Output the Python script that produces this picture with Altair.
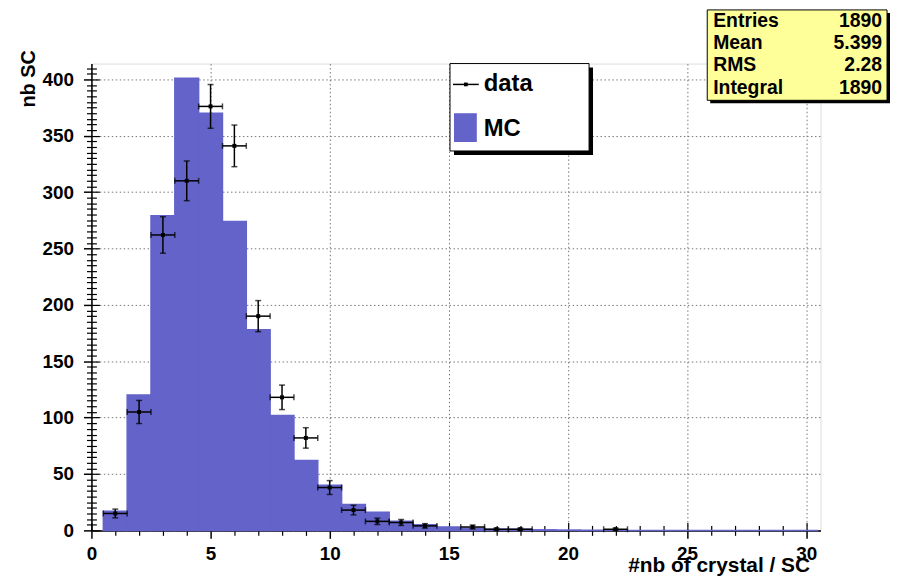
import math
import altair as alt
import pandas as pd

# ---------------- data ----------------
mc_bins = list(range(1, 31))
mc_counts = [17, 120, 279, 401, 370, 274, 178, 102, 62, 40, 23, 16, 8, 5, 3,
             2, 1, 1, 0.5, 0.3, 0.2, 0.1, 0, 0, 0, 0, 0, 0, 0, 0]

data_x = [1, 2, 3, 4, 5, 6, 7, 8, 9, 10, 11, 12, 13, 14, 16, 17, 18, 22]
data_counts = [15, 105, 262, 310, 376, 341, 190, 118, 82, 38, 18, 8, 7, 4, 3, 1, 1, 1]

x_major = [0, 5, 10, 15, 20, 25, 30]
x_minor = [v for v in range(0, 31) if v % 5 != 0]
y_major = [0, 50, 100, 150, 200, 250, 300, 350, 400]
y_minor = [v for v in range(0, 415, 5) if v % 50 != 0]

stats_labels = ["Entries", "Mean", "RMS", "Integral"]
stats_values = ["1890", "5.399", "2.28", "1890"]
legend_labels = ["data", "MC"]
x_title = "#nb of crystal / SC"
y_title = "nb SC"

# ---------------- styling ----------------
BLUE = "#6363c9"
FONT = "Liberation Sans"
W, H = 734, 470
xs = alt.Scale(domain=[0, 30.6], nice=False, zero=False)
ys = alt.Scale(domain=[0, 414], nice=False, zero=False)

mc = pd.DataFrame({"c": mc_bins, "n": mc_counts})
mc["lo"] = mc["c"] - 0.5
mc["hi"] = mc["c"] + 0.5
mc["z"] = 0

dd = pd.DataFrame({"x": data_x, "n": data_counts})
dd["err"] = [math.sqrt(v) for v in dd["n"]]
dd["lo"] = dd["x"] - 0.5
dd["hi"] = dd["x"] + 0.5
dd["ylo"] = dd["n"] - dd["err"]
dd["yhi"] = dd["n"] + dd["err"]

grid_kw = dict(gridColor="#777777", gridDash=[1.5, 2.5], gridWidth=1)

main_x_axis = alt.Axis(orient="bottom", values=x_major, format="d", grid=True, tickSize=8,
                       tickWidth=1.5, tickColor="black", labelPadding=6, labelFlush=False,
                       domainColor="black", domainWidth=1.5,
                       title=x_title, titleAlign="right", titleAnchor="end",
                       titleX=723, titleY=41, titleBaseline="alphabetic",
                       titleFontSize=21, titleFont=FONT, titleFontWeight="bold",
                       labelFontSize=19, labelFont=FONT, labelFontWeight="bold",
                       labelColor="black", titleColor="black", **grid_kw)
main_y_axis = alt.Axis(orient="left", values=y_major, format="d", grid=True, tickSize=8,
                       tickWidth=1.5, tickColor="black", labelPadding=10,
                       domainColor="black", domainWidth=1.5,
                       title=y_title, titleAngle=270, titleAlign="right",
                       titleBaseline="middle", titleX=-63, titleY=-14,
                       titleFontSize=20, titleFont=FONT, titleFontWeight="bold",
                       labelFontSize=19, labelFont=FONT, labelFontWeight="bold",
                       labelColor="black", titleColor="black", **grid_kw)

mc_layer = alt.Chart(mc).mark_rect(color=BLUE, stroke=BLUE, strokeWidth=1.5).encode(
    x=alt.X("lo:Q", scale=xs, axis=main_x_axis),
    x2="hi:Q",
    y=alt.Y("n:Q", scale=ys, axis=main_y_axis),
    y2="z:Q",
)


def tick_axis(orient, values, size, offset):
    return alt.Axis(orient=orient, values=values, grid=False, labels=False, domain=False,
                    title=None, tickSize=size, tickWidth=1.2, tickColor="black",
                    offset=offset)


def tick_layer(xv, yv, size, offset):
    return alt.Chart(mc).mark_point(opacity=0).encode(
        x=alt.X("c:Q", scale=xs, axis=tick_axis("bottom", xv, size, offset)),
        y=alt.Y("n:Q", scale=ys, axis=tick_axis("left", yv, size, offset)),
    )


major_in = tick_layer(x_major, y_major, 8, -8)
minor_out = tick_layer(x_minor, y_minor, 5, 0)
minor_in = tick_layer(x_minor, y_minor, 5, -5)

base_d = alt.Chart(dd)
h_err = base_d.mark_rule(color="black", strokeWidth=1.5).encode(
    x=alt.X("lo:Q", scale=xs, axis=None), x2="hi:Q", y=alt.Y("n:Q", scale=ys, axis=None))
v_err = base_d.mark_rule(color="black", strokeWidth=1.5).encode(
    x=alt.X("x:Q", scale=xs, axis=None), y=alt.Y("ylo:Q", scale=ys, axis=None), y2="yhi:Q")
cap_l = base_d.mark_tick(color="black", orient="vertical", size=6, thickness=1.5).encode(
    x=alt.X("lo:Q", scale=xs, axis=None), y=alt.Y("n:Q", scale=ys, axis=None))
cap_r = base_d.mark_tick(color="black", orient="vertical", size=6, thickness=1.5).encode(
    x=alt.X("hi:Q", scale=xs, axis=None), y=alt.Y("n:Q", scale=ys, axis=None))
cap_b = base_d.mark_tick(color="black", orient="horizontal", size=6, thickness=1.5).encode(
    x=alt.X("x:Q", scale=xs, axis=None), y=alt.Y("ylo:Q", scale=ys, axis=None))
cap_t = base_d.mark_tick(color="black", orient="horizontal", size=6, thickness=1.5).encode(
    x=alt.X("x:Q", scale=xs, axis=None), y=alt.Y("yhi:Q", scale=ys, axis=None))
pts = base_d.mark_square(color="black", size=16, opacity=1).encode(
    x=alt.X("x:Q", scale=xs, axis=None), y=alt.Y("n:Q", scale=ys, axis=None))

# ---------------- legend box ----------------
one = pd.DataFrame({"data": [legend_labels[0]], "mc": [legend_labels[1]],
                    "slab": ["\n".join(stats_labels)], "sval": ["\n".join(stats_values)]})
b1 = alt.Chart(one)
leg_shadow = b1.mark_rect(color="black").encode(
    x=alt.value(365), x2=alt.value(505), y=alt.value(4), y2=alt.value(92))
leg_box = b1.mark_rect(fill="white", stroke="black", strokeWidth=1).encode(
    x=alt.value(361), x2=alt.value(501), y=alt.value(0), y2=alt.value(88))
leg_line = b1.mark_rule(color="black", strokeWidth=1.5).encode(
    x=alt.value(364), x2=alt.value(390), y=alt.value(21))
leg_dot = b1.mark_square(color="black", size=14, opacity=1).encode(
    x=alt.value(377), y=alt.value(21))
leg_t1 = b1.mark_text(align="left", baseline="middle", font=FONT, fontWeight="bold",
                      fontSize=24, color="black").encode(
    x=alt.value(395), y=alt.value(21), text="data:N")
leg_sq = b1.mark_rect(color=BLUE).encode(
    x=alt.value(365), x2=alt.value(388), y=alt.value(50), y2=alt.value(79))
leg_t2 = b1.mark_text(align="left", baseline="middle", font=FONT, fontWeight="bold",
                      fontSize=24, color="black").encode(
    x=alt.value(395), y=alt.value(66), text="mc:N")

# ---------------- stats box ----------------
st_shadow = b1.mark_rect(color="black").encode(
    x=alt.value(623), x2=alt.value(804), y=alt.value(-51), y2=alt.value(40))
st_box = b1.mark_rect(fill="#ffff99", stroke="black", strokeWidth=1).encode(
    x=alt.value(620), x2=alt.value(801), y=alt.value(-54), y2=alt.value(37))
st_lab = b1.mark_text(align="left", baseline="middle", font=FONT, fontWeight="bold",
                      fontSize=19.5, color="black", lineBreak="\n", lineHeight=22.5).encode(
    x=alt.value(626), y=alt.value(-43), text="slab:N")
st_val = b1.mark_text(align="right", baseline="middle", font=FONT, fontWeight="bold",
                      fontSize=19.5, color="black", lineBreak="\n", lineHeight=22.5).encode(
    x=alt.value(796), y=alt.value(-43), text="sval:N")

chart = alt.layer(
    mc_layer, major_in, minor_out, minor_in,
    h_err, v_err, cap_l, cap_r, cap_b, cap_t, pts,
    leg_shadow, leg_box, leg_line, leg_dot, leg_t1, leg_sq, leg_t2,
    st_shadow, st_box, st_lab, st_val,
).resolve_axis(x="independent", y="independent").properties(
    width=W, height=H, autosize="none",
    padding={"left": 84, "top": 54, "right": 70, "bottom": 46},
).configure_view(stroke="black", strokeWidth=1.5).configure(background="white")

chart.save("out.html", embed_options={"renderer": "svg", "actions": False})
